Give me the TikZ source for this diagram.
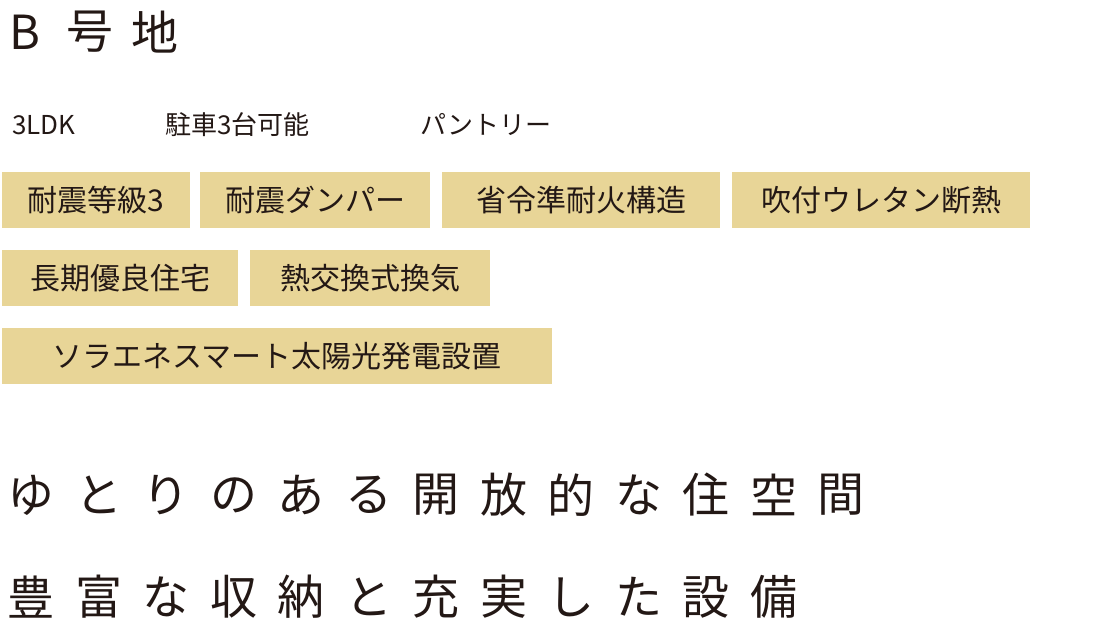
\documentclass[tikz,border=0pt]{standalone}
\usepackage{fontspec}
\setmainfont{Noto Sans CJK JP}
\definecolor{tagfill}{HTML}{E8D597}
\definecolor{ink}{HTML}{231815}
\tikzset{
  tagbox/.style={fill=tagfill, text=ink, minimum height=56pt, inner sep=0pt, anchor=north west, font=\fontsize{30}{30}\selectfont},
  spec/.style={text=ink, anchor=west, inner sep=0pt, font=\fontsize{26}{26}\selectfont},
  bigchar/.style={text=ink, inner sep=0pt, font=\fontsize{47}{47}\selectfont}
}
\begin{document}
\begin{tikzpicture}[x=1pt,y=-1pt]
  \useasboundingbox (0,0) rectangle (1100,628);

  % title
  \foreach \c [count=\i] in {B,号,地}
    \node[bigchar] (title\i) at (20+65*\i-65+5,32) {\c};

  % main specs
  \node[spec] (ldk) at (12,125) {3LDK};
  \node[spec] (parking) at (165,125) {駐車3台可能};
  \node[spec] (pantry) at (420,125) {パントリー};

  % feature tags
  \node[tagbox, minimum width=188pt] (quake) at (2,172) {耐震等級3};
  \node[tagbox, minimum width=230pt] (damper) at (200,172) {耐震ダンパー};
  \node[tagbox, minimum width=278pt] (fireproof) at (442,172) {省令準耐火構造};
  \node[tagbox, minimum width=298pt] (urethane) at (732,172) {吹付ウレタン断熱};
  \node[tagbox, minimum width=236pt] (longlife) at (2,250) {長期優良住宅};
  \node[tagbox, minimum width=240pt] (vent) at (250,250) {熱交換式換気};
  \node[tagbox, minimum width=550pt] (solar) at (2,328) {ソラエネスマート太陽光発電設置};

  % catch copy
  \foreach \c [count=\i] in {ゆ,と,り,の,あ,る,開,放,的,な,住,空,間}
    \node[bigchar] (copya\i) at (31+67.5*\i-67.5,495) {\c};
  \foreach \c [count=\i] in {豊,富,な,収,納,と,充,実,し,た,設,備}
    \node[bigchar] (copyb\i) at (31+67.5*\i-67.5,597) {\c};
\end{tikzpicture}
\end{document}
